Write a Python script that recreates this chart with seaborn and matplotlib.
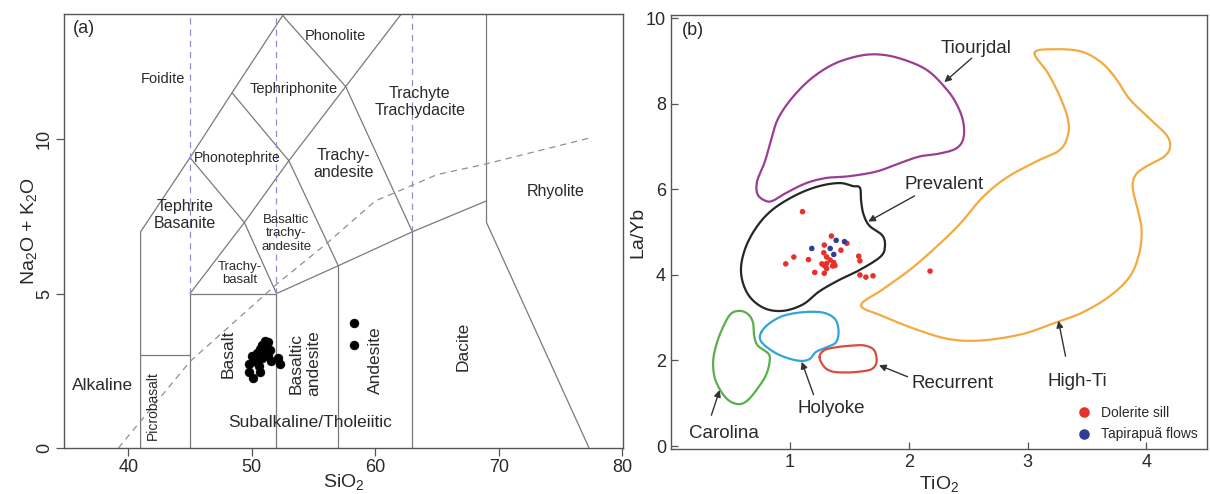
import numpy as np
import pandas as pd
import matplotlib
matplotlib.use("Agg")
import matplotlib.pyplot as plt
import seaborn as sns

# ---------------- data: panel (a) TAS ----------------
basalt_sio2 = [51.09, 51.33, 50.85, 50.69, 51.25, 51.50, 50.45, 50.90, 50.04, 51.30,
               50.85, 50.10, 51.55, 52.15, 52.25, 49.75, 50.55, 50.69, 49.75, 50.10,
               50.45, 51.09]
basalt_alk = [3.48, 3.42, 3.32, 3.22, 3.22, 3.17, 3.07, 3.07, 2.97, 2.97,
              2.92, 2.82, 2.82, 2.92, 2.72, 2.72, 2.67, 2.47, 2.47, 2.27,
              2.77, 3.32]
andesite_sio2 = [58.24, 58.30]
andesite_alk = [4.04, 3.34]

# TAS field boundaries (SiO2, Na2O+K2O)
tas_lines = [
    [(41, 0), (41, 7), (45, 9.4), (48.4, 11.5), (52.5, 14)],
    [(41, 3), (45, 3)],
    [(45, 0), (45, 5), (52, 5), (52, 0)],
    [(52, 5), (57, 5.9), (63, 7), (69, 8)],
    [(57, 0), (57, 5.9)],
    [(63, 0), (63, 7)],
    [(69, 14.1), (69, 7.3), (77.3, 0)],
    [(45, 5), (49.4, 7.3), (52, 5)],
    [(49.4, 7.3), (45, 9.4)],
    [(49.4, 7.3), (53, 9.3), (57.6, 11.7), (62.2, 14.1)],
    [(48.4, 11.5), (53, 9.3), (57, 5.9)],
    [(52.5, 14), (57.6, 11.7), (63, 7)],
]
alk_div_x = [39.2, 45.0, 52.0, 56.0, 60.0, 61.5, 65.0, 69.0, 77.5]
alk_div_y = [0.0, 2.8, 5.3, 6.6, 8.0, 8.25, 8.85, 9.2, 10.05]
vdash_x = [45, 52, 63]
vdash_ybot = [5, 5, 7]

tas_labels = [
    ("Foidite", 42.8, 11.95, 10.5, 0),
    ("Phonolite", 56.8, 13.35, 10.5, 0),
    ("Tephriphonite", 53.4, 11.62, 10.5, 0),
    ("Trachyte\nTrachydacite", 63.6, 11.2, 11.5, 0),
    ("Phonotephrite", 48.8, 9.4, 10, 0),
    ("Trachy-\nandesite", 57.4, 9.2, 11.5, 0),
    ("Rhyolite", 74.6, 8.3, 11.5, 0),
    ("Tephrite\nBasanite", 44.6, 7.55, 11.5, 0),
    ("Basaltic\ntrachy-\nandesite", 52.8, 6.95, 9.5, 0),
    ("Trachy-\nbasalt", 49.05, 5.65, 9.5, 0),
    ("Basalt", 48.1, 3.05, 12.5, 90),
    ("Basaltic\nandesite", 54.3, 2.75, 12.5, 90),
    ("Andesite", 60.05, 2.85, 12.5, 90),
    ("Dacite", 67.1, 3.3, 12.5, 90),
    ("Alkaline", 37.95, 2.02, 12.5, 0),
    ("Picrobasalt", 42.0, 1.38, 10, 90),
    ("Subalkaline/Tholeiitic", 54.7, 0.82, 12.5, 0),
]

# ---------------- data: panel (b) TiO2 vs La/Yb ----------------
dol_ti = [1.107, 0.966, 1.034, 1.157, 1.21, 1.29, 1.286, 1.31, 1.35, 1.43, 1.48,
          1.27, 1.29, 1.31, 1.34, 1.37, 1.38, 1.31, 1.29, 1.36, 1.58, 1.59, 1.59,
          1.64, 1.70, 2.18]
dol_layb = [5.48, 4.26, 4.42, 4.36, 4.06, 4.70, 4.52, 4.42, 4.91, 4.58, 4.74,
            4.26, 4.22, 4.27, 4.35, 4.29, 4.22, 4.15, 4.04, 4.21, 4.44, 4.33, 4.00,
            3.95, 3.98, 4.09]
tap_ti = [1.185, 1.34, 1.39, 1.46, 1.37]
tap_layb = [4.62, 4.62, 4.81, 4.78, 4.48]

tiourjdal_x = [0.80, 0.73, 0.725, 0.79, 0.846, 0.90, 1.01, 1.17, 1.36, 1.56, 1.73, 1.92,
               2.15, 2.32, 2.41, 2.46, 2.46, 2.40, 2.26, 2.09, 1.92, 1.73, 1.50, 1.31,
               1.14, 0.97, 0.86]
tiourjdal_y = [5.73, 5.88, 6.19, 6.65, 7.19, 7.65, 8.11, 8.57, 8.92, 9.11, 9.16, 9.07,
               8.80, 8.34, 7.96, 7.57, 7.19, 6.96, 6.84, 6.77, 6.61, 6.42, 6.31, 6.27,
               6.15, 5.92, 5.74]
prevalent_x = [1.53, 1.59, 1.60, 1.62, 1.67, 1.78, 1.80, 1.76, 1.59, 1.42, 1.25, 1.11,
               0.94, 0.78, 0.65, 0.59, 0.62, 0.72, 0.86, 1.06, 1.25, 1.42]
prevalent_y = [6.08, 6.04, 5.73, 5.42, 5.15, 4.92, 4.65, 4.42, 4.12, 3.89, 3.62, 3.31,
               3.16, 3.23, 3.54, 4.04, 4.58, 5.12, 5.54, 5.88, 6.08, 6.15]
carolina_x = [0.58, 0.65, 0.69, 0.70, 0.73, 0.82, 0.83, 0.80, 0.73, 0.65, 0.58, 0.50,
              0.43, 0.37, 0.355, 0.38, 0.43, 0.50]
carolina_y = [3.16, 3.08, 2.89, 2.58, 2.35, 2.16, 1.97, 1.66, 1.35, 1.08, 0.98, 1.04,
              1.24, 1.58, 1.97, 2.35, 2.73, 3.08]
holyoke_x = [0.76, 0.82, 0.94, 1.11, 1.28, 1.38, 1.41, 1.39, 1.31, 1.22, 1.17, 1.10,
             1.00, 0.89, 0.79, 0.75]
holyoke_y = [2.66, 2.85, 3.04, 3.13, 3.12, 2.97, 2.70, 2.43, 2.31, 2.20, 2.04, 1.99,
             2.04, 2.16, 2.35, 2.50]
recurrent_x = [1.25, 1.29, 1.39, 1.53, 1.63, 1.71, 1.73, 1.69, 1.59, 1.48, 1.36, 1.29]
recurrent_y = [2.08, 2.24, 2.31, 2.35, 2.35, 2.24, 1.97, 1.80, 1.74, 1.72, 1.74, 1.85]
highti_x = [3.06, 3.24, 3.46, 3.63, 3.75, 3.86, 4.03, 4.17, 4.20, 4.15, 4.00, 3.91,
            3.885, 3.93, 3.96, 3.94, 3.86, 3.69, 3.46, 3.24, 2.96, 2.62, 2.34, 2.06,
            1.78, 1.60, 1.78, 2.01, 2.23, 2.43, 2.62, 2.82, 3.07, 3.27, 3.34, 3.34,
            3.27, 3.17]
highti_y = [9.20, 9.28, 9.22, 8.95, 8.57, 8.11, 7.65, 7.27, 7.00, 6.77, 6.54, 6.34,
            6.04, 5.50, 5.04, 4.50, 3.96, 3.50, 3.12, 2.89, 2.62, 2.47, 2.50, 2.73,
            3.04, 3.29, 3.66, 4.12, 4.65, 5.19, 5.81, 6.27, 6.65, 6.92, 7.27, 7.65,
            8.19, 8.73]

fields = [
    ("Tiourjdal", tiourjdal_x, tiourjdal_y, "#9b3d94"),
    ("Prevalent", prevalent_x, prevalent_y, "#262626"),
    ("Carolina", carolina_x, carolina_y, "#5aae4c"),
    ("Holyoke", holyoke_x, holyoke_y, "#2ea6da"),
    ("Recurrent", recurrent_x, recurrent_y, "#dc4a3e"),
    ("High-Ti", highti_x, highti_y, "#f3aa40"),
]
# label text position, arrow head, arrow tail
field_labels = [
    ("Tiourjdal", (2.57, 9.3), (2.30, 8.51), (2.53, 9.07)),
    ("Prevalent", (2.30, 6.12), (1.66, 5.25), (2.05, 5.85)),
    ("High-Ti", (3.42, 1.50), (3.26, 2.93), (3.32, 2.10)),
    ("Recurrent", (2.37, 1.47), (1.75, 1.89), (1.99, 1.62)),
    ("Holyoke", (1.35, 0.88), (1.10, 1.97), (1.20, 1.20)),
    ("Carolina", (0.45, 0.30), (0.41, 1.31), (0.34, 0.72)),
]


def smooth_closed(xs, ys, n=14):
    P = np.column_stack([xs, ys]).astype(float)
    N = len(P)
    t = np.linspace(0, 1, n, endpoint=False)[:, None]
    out = []
    for i in range(N):
        p0, p1, p2, p3 = P[i - 1], P[i], P[(i + 1) % N], P[(i + 2) % N]
        pts = 0.5 * (2 * p1 + (-p0 + p2) * t + (2 * p0 - 5 * p1 + 4 * p2 - p3) * t ** 2
                     + (-p0 + 3 * p1 - 3 * p2 + p3) * t ** 3)
        out.append(pts)
    out = np.vstack(out + [out[0][:1]])
    return out[:, 0], out[:, 1]


sns.set_theme(style="white")
plt.rcParams["font.family"] = ["Liberation Sans", "DejaVu Sans"]
plt.rcParams["mathtext.default"] = "regular"

fig = plt.figure(figsize=(12.1, 4.94), dpi=100)
axA = fig.add_axes([0.0529, 0.0931, 0.4620, 0.8786])
axB = fig.add_axes([0.5545, 0.0911, 0.4430, 0.8785])

edge = "#555555"
txt = "#2a2a2a"

# ---------- panel (a) ----------
for seg in tas_lines:
    xs, ys = zip(*seg)
    axA.plot(xs, ys, color="#7a7a7a", lw=0.9, zorder=1)
for vx, yb in zip(vdash_x, vdash_ybot):
    axA.plot([vx, vx], [yb, 14.1], color="#9090cc", lw=0.9, ls=(0, (5, 4)), zorder=1)
axA.plot(alk_div_x, alk_div_y, color="#8f8f8f", lw=0.9, ls=(0, (5, 4)), zorder=1)

dfa = pd.DataFrame({"SiO2": basalt_sio2 + andesite_sio2,
                    "alk": basalt_alk + andesite_alk})
sns.scatterplot(data=dfa, x="SiO2", y="alk", ax=axA, color="black", s=42,
                edgecolor="black", linewidth=0.3, zorder=3, legend=False)

for label, x, y, fs, rot in tas_labels:
    axA.text(x, y, label, fontsize=fs, rotation=rot, ha="center", va="center",
             color=txt, linespacing=1.15, zorder=2)
axA.text(0.015, 0.985, "(a)", transform=axA.transAxes, fontsize=13, ha="left",
         va="top", color=txt)

axA.set_xlim(34.8, 80.05)
axA.set_ylim(0, 14.05)
axA.set_xticks([40, 50, 60, 70, 80])
axA.set_yticks([0, 5, 10])
axA.tick_params(axis="both", direction="out", length=6, width=0.9, color=edge,
                labelsize=13, labelcolor=txt, bottom=True, left=True, pad=2)
plt.setp(axA.get_yticklabels(), rotation=90, va="center")
axA.set_xlabel("SiO$_2$", fontsize=14, color=txt, labelpad=-3)
axA.set_ylabel("Na$_2$O + K$_2$O", fontsize=14, color=txt, labelpad=-2)
for sp in axA.spines.values():
    sp.set_color(edge)
    sp.set_linewidth(1.0)

# ---------- panel (b) ----------
for name, xs, ys, col in fields:
    sx, sy = smooth_closed(xs, ys)
    dfl = pd.DataFrame({"TiO2": sx, "LaYb": sy, "order": np.arange(len(sx))})
    sns.lineplot(data=dfl, x="TiO2", y="LaYb", sort=False, estimator=None, ax=axB,
                 color=col, lw=1.6, zorder=2)

for name, tpos, head, tail in field_labels:
    axB.text(tpos[0], tpos[1], name, fontsize=13.5, ha="center", va="center",
             color=txt)
    axB.annotate("", xy=head, xytext=tail,
                 arrowprops=dict(arrowstyle="-|>", color="#333333", lw=1.0,
                                 mutation_scale=10, shrinkA=0, shrinkB=0))

dfb = pd.DataFrame({
    "TiO2": dol_ti + tap_ti,
    "LaYb": dol_layb + tap_layb,
    "group": ["Dolerite sill"] * len(dol_ti) + ["Tapirapuã flows"] * len(tap_ti),
})
sns.scatterplot(data=dfb, x="TiO2", y="LaYb", hue="group", ax=axB,
                palette={"Dolerite sill": "#e8312b", "Tapirapuã flows": "#2f3d95"},
                s=16, edgecolor="none", zorder=4, legend=True)
leg = axB.legend(loc="lower right", bbox_to_anchor=(1.0, -0.005), frameon=False,
                 fontsize=10, handletextpad=0.2, labelspacing=0.55, markerscale=1.9,
                 borderaxespad=0.3)
for t in leg.get_texts():
    t.set_color(txt)

axB.text(0.02, 0.985, "(b)", transform=axB.transAxes, fontsize=13, ha="left",
         va="top", color=txt)
axB.set_xlim(0, 4.51)
axB.set_ylim(-0.07, 10.08)
axB.set_xticks([1, 2, 3, 4])
axB.set_yticks([0, 2, 4, 6, 8, 10])
axB.tick_params(axis="both", direction="in", length=5, width=0.9, color=edge,
                labelsize=13, labelcolor=txt, bottom=True, left=True)
axB.set_xlabel("TiO$_2$", fontsize=14, color=txt, labelpad=2)
axB.set_ylabel("La/Yb", fontsize=14, color=txt, labelpad=0)
for sp in axB.spines.values():
    sp.set_color(edge)
    sp.set_linewidth(1.0)

fig.savefig("out.png", dpi=100)
